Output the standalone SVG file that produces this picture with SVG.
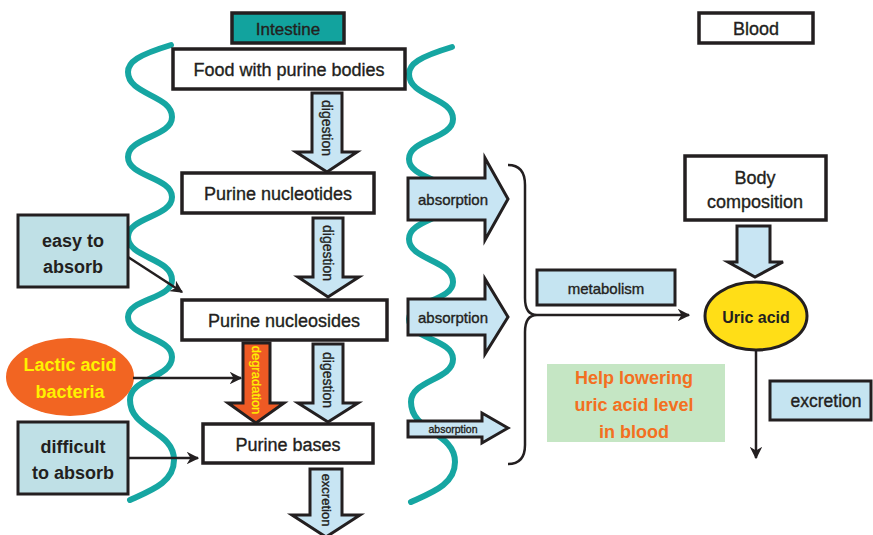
<svg xmlns="http://www.w3.org/2000/svg" xmlns:xlink="http://www.w3.org/1999/xlink" width="873" height="535" viewBox="0 0 873 535">
<style>
.t{font-family:"Liberation Sans",Arial,sans-serif;fill:#231f20;text-anchor:middle;dominant-baseline:central;stroke:#231f20;stroke-width:0.35}
.b{font-weight:bold;stroke:none}
.box{fill:#fff;stroke:#231f20;stroke-width:3.5}
.lb{fill:#bfe0e6;stroke:#231f20;stroke-width:3}
.mb{fill:#c5e4f1;stroke:#231f20;stroke-width:3}
.arr{fill:#c8e5f3;stroke:#231f20;stroke-width:3;stroke-linejoin:miter}
.wave{fill:none;stroke:#16a6a2;stroke-width:6;stroke-linecap:round}
.con{fill:none;stroke:#231f20;stroke-width:2.5}
</style>
<defs>
<marker id="ah" viewBox="0 0 10 10" refX="9" refY="5" markerWidth="5" markerHeight="5" orient="auto" markerUnits="strokeWidth">
<path d="M0,0 L10,5 L0,10 L3,5 Z" fill="#231f20"/>
</marker>
<path id="wv" d="M171,45 C138,55 128,62 128,72 C128,95 172,95 172,117 C172,137 128,137 128,157 C128,177 172,177 172,197 C172,217 128,217 128,237 C128,258 172,258 172,280 C172,299 128,299 128,317 C128,337 172,337 172,357 C172,378 130,378 130,400 C130,430 174,430 174,460 C174,482 152,490 130,500"/>
</defs>

<g id="waves">
<use xlink:href="#wv" class="wave"/>
<use xlink:href="#wv" class="wave" transform="translate(281,2)"/>
</g>

<g id="intestine">
<rect x="232" y="13" width="112" height="30" fill="#12a39e" stroke="#231f20" stroke-width="3.5"/>
<text class="t" x="288" y="29" font-size="17">Intestine</text>
</g>
<g id="blood">
<rect x="699" y="13" width="114" height="30" class="box"/>
<text class="t" x="756" y="29" font-size="18">Blood</text>
</g>

<g id="food">
<rect x="173" y="49" width="232" height="40" class="box"/>
<text class="t" x="289" y="70" font-size="18">Food with purine bodies</text>
</g>
<g id="nucleotides">
<rect x="182" y="173" width="192" height="40" class="box"/>
<text class="t" x="278" y="194" font-size="18">Purine nucleotides</text>
</g>
<g id="nucleosides">
<rect x="182" y="300" width="205" height="40" class="box"/>
<text class="t" x="284" y="321" font-size="18">Purine nucleosides</text>
</g>
<g id="bases">
<rect x="203" y="424" width="170" height="39" class="box"/>
<text class="t" x="288" y="445" font-size="18">Purine bases</text>
</g>

<g id="easy">
<rect x="18" y="215" width="110" height="72" class="lb"/>
<text class="t b" x="73" y="241" font-size="18">easy to</text>
<text class="t b" x="73" y="267" font-size="18">absorb</text>
</g>
<g id="lactic">
<ellipse cx="70" cy="377" rx="64" ry="39" fill="#f26522"/>
<text class="t b" x="70" y="365" font-size="18" style="fill:#fff200">Lactic acid</text>
<text class="t b" x="70" y="392" font-size="18" style="fill:#fff200">bacteria</text>
</g>
<g id="difficult">
<rect x="18" y="422" width="110" height="72" class="lb"/>
<text class="t b" x="73" y="447" font-size="18">difficult</text>
<text class="t b" x="73" y="473" font-size="18">to absorb</text>
</g>

<g id="arrows-down">
<polygon class="arr" points="312,93 342,93 342,152 357,152 327,172 296,152 312,152"/>
<text class="t" transform="translate(327,128) rotate(90)" font-size="14">digestion</text>
<polygon class="arr" points="313,218 343,218 343,277 359,277 328,297 298,277 313,277"/>
<text class="t" transform="translate(328,253) rotate(90)" font-size="14">digestion</text>
<polygon class="arr" points="243,343 270,343 270,403 284,403 256,423 228,403 243,403" style="fill:#ee5a24"/>
<text class="t" transform="translate(256,380) rotate(90)" font-size="13" style="fill:#fff200;stroke:#fff200;stroke-width:0.25">degradation</text>
<polygon class="arr" points="313,344 343,344 343,403 358,403 328,422 298,403 313,403"/>
<text class="t" transform="translate(328,380) rotate(90)" font-size="14">digestion</text>
<polygon class="arr" points="310,469 342,469 342,515 360,515 326,537 292,515 310,515"/>
<text class="t" transform="translate(326,500) rotate(90)" font-size="13">excretion</text>
</g>

<g id="absorption">
<polygon class="arr" points="408,178 485,178 485,158 508,199 485,240 485,220 408,220"/>
<text class="t" x="453" y="199" font-size="15">absorption</text>
<polygon class="arr" points="408,299 485,299 485,279 508,317 485,354 485,335 408,335"/>
<text class="t" x="453" y="317" font-size="15">absorption</text>
<polygon class="arr" points="408,421 482,421 482,413 508,428 482,443 482,437 408,437"/>
<text class="t" x="453" y="429" font-size="10.5">absorption</text>
</g>

<g id="connectors">
<line class="con" x1="128" y1="257" x2="182" y2="292" marker-end="url(#ah)"/>
<line class="con" x1="133" y1="378" x2="241" y2="378" marker-end="url(#ah)"/>
<line class="con" x1="128" y1="458" x2="198" y2="458" marker-end="url(#ah)"/>
<path class="con" d="M508,165 Q525,165 525,185 L525,298 Q525,315 537,315 Q525,315 525,332 L525,445 Q525,464 508,464"/>
<line class="con" x1="537" y1="315" x2="689" y2="315" marker-end="url(#ah)"/>
<line class="con" x1="756" y1="350" x2="756" y2="458" marker-end="url(#ah)"/>
</g>

<g id="metabolism">
<rect x="537" y="270" width="138" height="35" class="mb"/>
<text class="t" x="606" y="288" font-size="15">metabolism</text>
</g>
<g id="body">
<rect x="685" y="156" width="141" height="64" class="box"/>
<text class="t" x="755" y="178" font-size="18">Body</text>
<text class="t" x="755" y="202" font-size="18">composition</text>
<polygon class="arr" points="737,226 770,226 770,262 783,262 755,277 728,262 737,262"/>
</g>
<g id="uric">
<ellipse cx="756" cy="316" rx="51" ry="34" fill="#ffde17" stroke="#231f20" stroke-width="3"/>
<text class="t b" x="756" y="317" font-size="16">Uric acid</text>
</g>
<g id="excretion">
<rect x="770" y="381" width="101" height="39" class="mb"/>
<text class="t" x="826" y="401" font-size="17.5">excretion</text>
</g>
<g id="help">
<rect x="547" y="364" width="178" height="78" fill="#c5e6c4"/>
<text class="t b" x="634" y="378" font-size="18" style="fill:#f36f21">Help lowering</text>
<text class="t b" x="634" y="405" font-size="18" style="fill:#f36f21">uric acid level</text>
<text class="t b" x="634" y="432" font-size="18" style="fill:#f36f21">in blood</text>
</g>
</svg>
